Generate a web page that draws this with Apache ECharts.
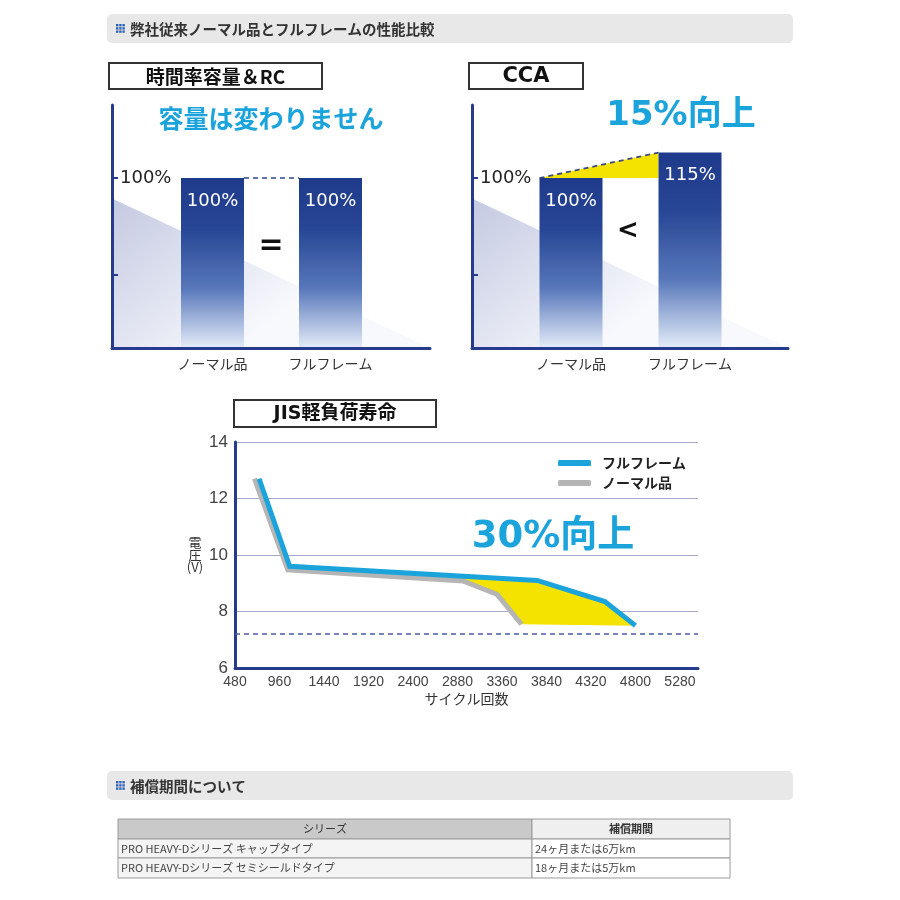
<!DOCTYPE html>
<html>
<head>
<meta charset="utf-8">
<script src="https://cdn.jsdelivr.net/npm/echarts@6/dist/echarts.min.js"></script>
<style>
html,body{margin:0;padding:0;background:#fff;}
#chart{width:900px;height:900px;}
</style>
</head>
<body>
<div id="chart"></div>
<script>
// ---------- data ----------
const sectionTitles = ['弊社従来ノーマル品とフルフレームの性能比較', '補償期間について'];
const panelTitles = ['時間率容量＆RC', 'CCA', 'JIS軽負荷寿命'];
const barCategories = ['ノーマル品', 'フルフレーム'];
const capacityValues = [100, 100];
const ccaValues = [100, 115];
const slopeSteps = ['start', 'end'];
const slopeValues = [88, 0];
const capacityNote = '容量は変わりません';
const ccaNote = '15%向上';
const lifeNote = '30%向上';
const seriesNames = ['フルフレーム', 'ノーマル品'];
const voltAxisName = ['電', '圧', '(V)'];
const fullCycles = [740, 1070, 3740, 4470, 4800];
const fullVolts = [12.7, 9.6, 9.1, 8.35, 7.5];
const normalCycles = [690, 1050, 2940, 3310, 3570];
const normalVolts = [12.7, 9.47, 9.08, 8.6, 7.55];
const cutoffVolt = 7.2;
const tableHeader = ['シリーズ', '補償期間'];
const tableRows = [
  ['PRO HEAVY-Dシリーズ キャップタイプ', '24ヶ月または6万km'],
  ['PRO HEAVY-Dシリーズ セミシールドタイプ', '18ヶ月または5万km']
];

// ---------- styles ----------
const NAVY = '#263b8e';
const CYAN = '#1ba3dc';
const JP = "'Noto Sans CJK JP', sans-serif";
const WIDE = "'DejaVu Sans', 'Noto Sans CJK JP', sans-serif";
const BAR_W = 63;
const barGradient = new echarts.graphic.LinearGradient(0, 0, 0, 1, [
  {offset: 0, color: '#1f3a8b'}, {offset: 0.3, color: '#274695'},
  {offset: 0.65, color: '#5878bb'}, {offset: 1, color: '#e4ecf8'}
]);
const slopeGradient = new echarts.graphic.LinearGradient(0, 0, 0.4, 1, [
  {offset: 0, color: '#c3c9e1'}, {offset: 1, color: '#f8f9fd'}
]);

const zip = (a, b) => a.map((v, i) => [v, b[i]]);

// ---------- axes helpers ----------
function framedY(grid) {
  return {
    type: 'value', gridIndex: grid, min: 0, max: 143, z: 5,
    axisLine: {show: true, lineStyle: {color: NAVY, width: 3}},
    axisTick: {show: true, inside: true, length: 6, customValues: [43, 100], lineStyle: {color: NAVY, width: 2}},
    axisLabel: {show: true, inside: true, margin: 8, customValues: [100], formatter: '{value}%',
      fontFamily: WIDE, fontSize: 18, color: '#222'},
    splitLine: {show: false}
  };
}
function hiddenY(grid) {
  return {type: 'value', gridIndex: grid, min: 0, max: 143, show: false};
}
function slopeX(grid) {
  return {type: 'category', gridIndex: grid, data: slopeSteps, boundaryGap: false, z: 5,
    axisLine: {show: true, lineStyle: {color: NAVY, width: 3}},
    axisTick: {show: false}, axisLabel: {show: false}};
}
function barX(grid) {
  return {type: 'category', gridIndex: grid, data: barCategories,
    axisLine: {show: false}, axisTick: {show: false},
    axisLabel: {fontFamily: JP, fontSize: 14, color: '#333', margin: 9}};
}
function slopeSeries(xi) {
  return {type: 'line', xAxisIndex: xi, yAxisIndex: xi, data: slopeValues, symbol: 'none',
    lineStyle: {width: 0}, areaStyle: {color: slopeGradient, opacity: 1}, z: 1, silent: true};
}
function barSeries(xi, values) {
  return {type: 'bar', xAxisIndex: xi, yAxisIndex: xi, data: values, barWidth: BAR_W, z: 3,
    itemStyle: {color: barGradient},
    label: {show: true, position: 'insideTop', distance: 14, formatter: '{c}%',
      fontFamily: WIDE, fontSize: 18, color: '#fff'}};
}

// ---------- graphics ----------
function sectionBar(y, text) {
  const children = [{type: 'rect', shape: {x: 107, y: y, width: 686, height: 29, r: 5}, style: {fill: '#e8e8e8'}}];
  for (let r = 0; r < 3; r++) for (let c = 0; c < 3; c++) {
    children.push({type: 'rect', shape: {x: 116 + c * 3.2, y: y + 10 + r * 3.2, width: 2.4, height: 2.4}, style: {fill: '#2f63b8'}});
  }
  children.push({type: 'text', style: {x: 130, y: y + 15, text: text, fill: '#333', font: 'bold 14.5px ' + JP, verticalAlign: 'middle'}});
  return {type: 'group', children: children};
}
function titleBox(x, y, w, h, text, font) {
  return {type: 'group', children: [
    {type: 'rect', shape: {x: x, y: y, width: w, height: h}, style: {fill: '#fff', stroke: '#333', lineWidth: 2}},
    {type: 'text', style: {x: x + w / 2, y: y + h / 2 + 1, text: text, fill: '#111', font: font, align: 'center', verticalAlign: 'middle'}}
  ]};
}
function note(x, y, text, font, color) {
  return {type: 'text', style: {x: x, y: y, text: text, font: font, fill: color, align: 'center', verticalAlign: 'middle'}};
}
function stackedName(x, yCenter, lines, step) {
  const top = yCenter - (lines.length - 1) * step / 2;
  return {type: 'group', children: lines.map((t, i) => ({
    type: 'text', style: {x: x, y: top + i * step, text: t, font: '13px ' + JP, fill: '#333', align: 'center', verticalAlign: 'middle'}
  }))};
}
function table() {
  const xs = [118, 532, 730];
  const ys = [819, 839, 858, 878];
  const els = [];
  els.push({type: 'rect', shape: {x: xs[0], y: ys[0], width: xs[1] - xs[0], height: ys[1] - ys[0]}, style: {fill: '#c9c9c9', stroke: '#9a9a9a', lineWidth: 1}});
  els.push({type: 'rect', shape: {x: xs[1], y: ys[0], width: xs[2] - xs[1], height: ys[1] - ys[0]}, style: {fill: '#efefef', stroke: '#9a9a9a', lineWidth: 1}});
  els.push({type: 'text', style: {x: (xs[0] + xs[1]) / 2, y: (ys[0] + ys[1]) / 2, text: tableHeader[0], font: '11px ' + JP, fill: '#333', align: 'center', verticalAlign: 'middle'}});
  els.push({type: 'text', style: {x: (xs[1] + xs[2]) / 2, y: (ys[0] + ys[1]) / 2, text: tableHeader[1], font: 'bold 11px ' + JP, fill: '#333', align: 'center', verticalAlign: 'middle'}});
  tableRows.forEach((row, i) => {
    const y0 = ys[i + 1], y1 = ys[i + 2];
    els.push({type: 'rect', shape: {x: xs[0], y: y0, width: xs[1] - xs[0], height: y1 - y0}, style: {fill: '#f4f4f4', stroke: '#9a9a9a', lineWidth: 1}});
    els.push({type: 'rect', shape: {x: xs[1], y: y0, width: xs[2] - xs[1], height: y1 - y0}, style: {fill: '#ffffff', stroke: '#9a9a9a', lineWidth: 1}});
    els.push({type: 'text', style: {x: xs[0] + 3, y: (y0 + y1) / 2, text: row[0], font: '11px ' + JP, fill: '#444', verticalAlign: 'middle'}});
    els.push({type: 'text', style: {x: xs[1] + 3, y: (y0 + y1) / 2, text: row[1], font: '11px ' + JP, fill: '#444', verticalAlign: 'middle'}});
  });
  return {type: 'group', children: els};
}

// ---------- custom renderers ----------
function capacityConnector(params, api) {
  const a = api.coord([api.value(0), api.value(1)]);
  const b = api.coord([api.value(2), api.value(3)]);
  return {type: 'line', shape: {x1: a[0] + BAR_W / 2, y1: a[1], x2: b[0] - BAR_W / 2, y2: b[1]},
    style: {stroke: '#2f4490', lineWidth: 1.6, lineDash: [5, 4]}};
}
function ccaGain(params, api) {
  const a = api.coord([api.value(0), api.value(1)]);
  const b = api.coord([api.value(2), api.value(3)]);
  const p0 = [a[0] - BAR_W / 2, a[1]];
  const p1 = [b[0] - BAR_W / 2, b[1]];
  const p2 = [p1[0], p0[1]];
  return {type: 'group', children: [
    {type: 'polygon', shape: {points: [p0, p1, p2]}, style: {fill: '#f4e200'}},
    {type: 'line', shape: {x1: p0[0], y1: p0[1], x2: p1[0], y2: p1[1]}, style: {stroke: '#3d4a86', lineWidth: 1.8, lineDash: [5, 4]}}
  ]};
}
function lifeGain(params, api) {
  const pts = [];
  for (let i = 1; i < fullCycles.length; i++) pts.push(api.coord([fullCycles[i], fullVolts[i]]));
  for (let i = normalCycles.length - 1; i >= 1; i--) pts.push(api.coord([normalCycles[i], normalVolts[i]]));
  return {type: 'polygon', shape: {points: pts}, style: {fill: '#f4e200'}};
}

const option = {
  backgroundColor: '#fff',
  animation: false,
  textStyle: {fontFamily: JP},
  grid: [
    {left: 112, top: 105, width: 318, height: 243},
    {left: 153.5, top: 105, width: 236, height: 243},
    {left: 472, top: 105, width: 316, height: 243},
    {left: 511.5, top: 105, width: 238, height: 243},
    {left: 235, top: 442, width: 463, height: 226}
  ],
  legend: {
    data: seriesNames, orient: 'vertical', left: 553, top: 451, itemWidth: 33, itemHeight: 6, itemGap: 6,
    icon: 'roundRect',
    textStyle: {fontFamily: JP, fontSize: 14, fontWeight: 'bold', color: '#222', padding: [0, 0, 0, 6]}
  },
  xAxis: [
    slopeX(0), barX(1), slopeX(2), barX(3),
    {type: 'value', gridIndex: 4, min: 480, max: 5475, interval: 480,
      name: 'サイクル回数', nameLocation: 'middle', nameGap: 24,
      nameTextStyle: {fontFamily: JP, fontSize: 14, color: '#333'},
      axisLine: {show: true, lineStyle: {color: NAVY, width: 3}},
      axisTick: {show: false},
      axisLabel: {showMaxLabel: false, formatter: v => String(v),
        fontFamily: "'Liberation Sans', sans-serif", fontSize: 14, color: '#444', margin: 7},
      splitLine: {show: false}}
  ],
  yAxis: [
    framedY(0), hiddenY(1), framedY(2), hiddenY(3),
    {type: 'value', gridIndex: 4, min: 6, max: 14, interval: 2,
      axisLine: {show: true, lineStyle: {color: NAVY, width: 3}},
      axisTick: {show: false},
      axisLabel: {fontFamily: "'Liberation Sans', sans-serif", fontSize: 17, color: '#444', margin: 7},
      splitLine: {show: true, lineStyle: {color: '#a3a8cc', width: 1}}}
  ],
  series: [
    slopeSeries(0),
    barSeries(1, capacityValues),
    {type: 'custom', xAxisIndex: 1, yAxisIndex: 1, z: 2, silent: true,
      data: [[0, capacityValues[0], 1, capacityValues[1]]], encode: {x: [0, 2], y: [1, 3]},
      renderItem: capacityConnector},
    slopeSeries(2),
    barSeries(3, ccaValues),
    {type: 'custom', xAxisIndex: 3, yAxisIndex: 3, z: 2, silent: true,
      data: [[0, ccaValues[0], 1, ccaValues[1]]], encode: {x: [0, 2], y: [1, 3]},
      renderItem: ccaGain},
    {type: 'custom', xAxisIndex: 4, yAxisIndex: 4, z: 1, silent: true,
      data: [[fullCycles[0], fullVolts[0]]], renderItem: lifeGain},
    {name: seriesNames[1], type: 'line', xAxisIndex: 4, yAxisIndex: 4, data: zip(normalCycles, normalVolts),
      symbol: 'none', z: 2, color: '#b5b5b5',
      lineStyle: {width: 5, color: '#b5b5b5', join: 'miter', cap: 'butt'},
      markLine: {silent: true, symbol: 'none', label: {show: false},
        lineStyle: {color: '#4d5ba8', width: 1.5, type: [5, 4]},
        data: [{yAxis: cutoffVolt}]}},
    {name: seriesNames[0], type: 'line', xAxisIndex: 4, yAxisIndex: 4, data: zip(fullCycles, fullVolts),
      symbol: 'none', z: 3, color: CYAN,
      lineStyle: {width: 5, color: CYAN, join: 'miter', cap: 'butt'}}
  ],
  graphic: [
    sectionBar(14, sectionTitles[0]),
    sectionBar(771, sectionTitles[1]),
    titleBox(109, 63, 213, 26, panelTitles[0], 'bold 19px ' + JP),
    titleBox(469, 63, 114, 26, panelTitles[1], 'bold 21px ' + WIDE),
    titleBox(234, 400, 202, 27, panelTitles[2], 'bold 19px ' + WIDE),
    note(271, 118, capacityNote, 'bold 25px ' + JP, CYAN),
    note(271, 246, '=', 'bold 30px ' + WIDE, '#111'),
    note(681, 116, ccaNote, 'bold 34px ' + WIDE, CYAN),
    note(628, 231, '<', 'bold 26px ' + WIDE, '#111'),
    note(553, 537, lifeNote, 'bold 37px ' + WIDE, CYAN),
    stackedName(195, 555, voltAxisName, 12.5),
    table()
  ]
};

const chart = echarts.init(document.getElementById('chart'), null, {renderer: 'canvas'});
chart.setOption(option);
</script>
</body>
</html>
